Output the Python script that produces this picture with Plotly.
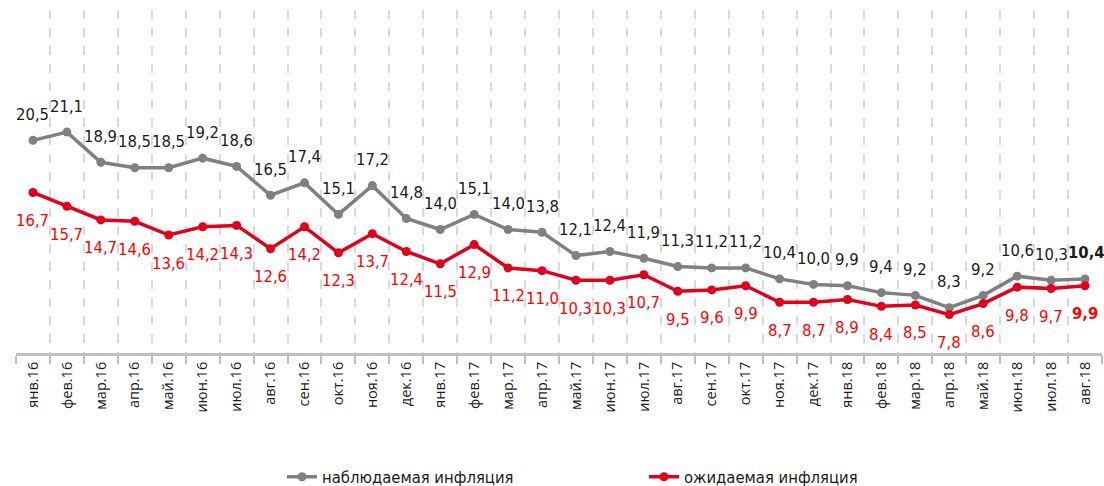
import plotly.graph_objects as go

months = ["янв.16","фев.16","мар.16","апр.16","май.16","июн.16","июл.16","авг.16","сен.16","окт.16","ноя.16","дек.16",
          "янв.17","фев.17","мар.17","апр.17","май.17","июн.17","июл.17","авг.17","сен.17","окт.17","ноя.17","дек.17",
          "янв.18","фев.18","мар.18","апр.18","май.18","июн.18","июл.18","авг.18"]
observed = [20.5,21.1,18.9,18.5,18.5,19.2,18.6,16.5,17.4,15.1,17.2,14.8,
            14.0,15.1,14.0,13.8,12.1,12.4,11.9,11.3,11.2,11.2,10.4,10.0,
            9.9,9.4,9.2,8.3,9.2,10.6,10.3,10.4]
expected = [16.7,15.7,14.7,14.6,13.6,14.2,14.3,12.6,14.2,12.3,13.7,12.4,
            11.5,12.9,11.2,11.0,10.3,10.3,10.7,9.5,9.6,9.9,8.7,8.7,
            8.9,8.4,8.5,7.8,8.6,9.8,9.7,9.9]
names = ["наблюдаемая инфляция", "ожидаемая инфляция"]

GREY = "#808080"
RED = "#e2001a"
LABEL_FONT = "Liberation Sans Narrow, DejaVu Sans Condensed, Arial Narrow, sans-serif"

def fmt(v):
    return f"{v:.1f}".replace(".", ",")

fig = go.Figure()
fig.add_trace(go.Scatter(x=months, y=observed, name=names[0], mode="lines+markers",
                         line=dict(color=GREY, width=3.5), marker=dict(color=GREY, size=9)))
fig.add_trace(go.Scatter(x=months, y=expected, name=names[1], mode="lines+markers",
                         line=dict(color=RED, width=3.5), marker=dict(color=RED, size=9)))

annotations = []
n = len(months)
for i, (m, v) in enumerate(zip(months, observed)):
    last = i == n - 1
    t = fmt(v)
    if last:
        t = f"<b>{t}</b>"
    annotations.append(dict(x=m, y=v, xref="x", yref="y", text=t, showarrow=False,
                            yshift=26, xshift=1 if last else 0,
                            font=dict(family=LABEL_FONT, size=16.5, color="#1a1a1a")))
for i, (m, v) in enumerate(zip(months, expected)):
    last = i == n - 1
    t = fmt(v)
    if last:
        t = f"<b>{t}</b>"
    annotations.append(dict(x=m, y=v, xref="x", yref="y", text=t, showarrow=False,
                            yshift=-28, xshift=0,
                            font=dict(family=LABEL_FONT, size=16.5, color="#ff0000")))

fig.update_layout(
    width=1104, height=486,
    margin=dict(l=16, r=2, t=10, b=133),
    paper_bgcolor="white", plot_bgcolor="white",
    showlegend=True,
    legend=dict(orientation="h", xref="container", yref="container", x=282 / 1104, xanchor="left",
                y=0.0185, yanchor="middle", font=dict(family=LABEL_FONT, size=16.5, color="#1a1a1a"),
                entrywidth=317, entrywidthmode="pixels"),
    annotations=annotations,
    xaxis=dict(type="category", range=[-0.5, n - 0.5], tickson="boundaries",
               showgrid=True, gridcolor="#d9d9d9", griddash="dash", gridwidth=2,
               showline=True, linecolor="#bfbfbf", linewidth=3,
               ticks="outside", ticklen=8, tickwidth=2, tickcolor="#bfbfbf",
               tickangle=-90, tickfont=dict(family="Open Sans, sans-serif", size=14.5, color="#1a1a1a"),
               zeroline=False),
    yaxis=dict(range=[5, 30], visible=False, showgrid=False, zeroline=False),
)

fig.write_html("out.html", config={"displayModeBar": False},
               post_script="document.body.style.margin='0';")
